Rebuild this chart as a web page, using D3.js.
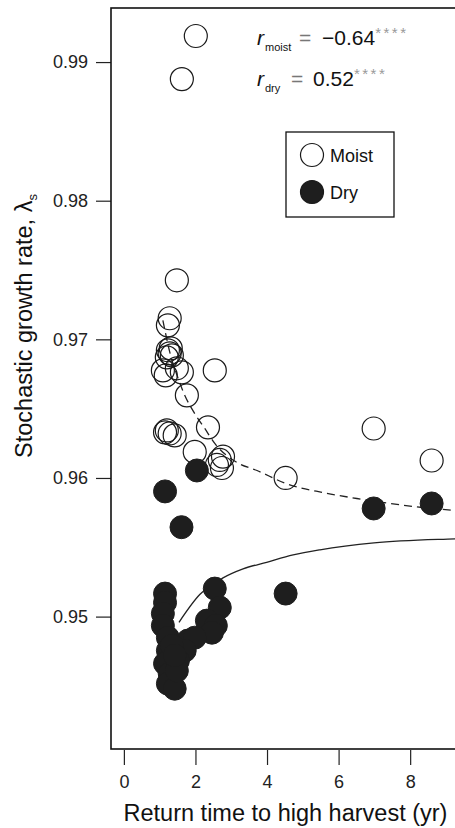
<!DOCTYPE html>
<html>
<head>
<meta charset="utf-8">
<script src="https://cdn.jsdelivr.net/npm/d3@7"></script>
<style>
  html, body { margin: 0; padding: 0; background: #fff; overflow: hidden; }
  svg { display: block; font-family: "Liberation Sans", Arial, Helvetica, sans-serif; }
</style>
</head>
<body>
<svg id="chart" width="455" height="828"></svg>
<script>
// return time (yr), stochastic growth rate
const moistPoints = [
  [2.01, 0.99188], [1.62, 0.98877], [1.48, 0.97426], [1.28, 0.97152], [1.23, 0.97101],
  [1.23, 0.96921], [1.28, 0.96899], [1.34, 0.96884], [1.20, 0.96870], [1.31, 0.96935],
  [1.09, 0.96776], [1.48, 0.96791], [1.62, 0.96762], [1.17, 0.96740], [2.54, 0.96776],
  [1.76, 0.96596], [2.35, 0.96365], [1.15, 0.96329], [1.28, 0.96321], [1.42, 0.96307],
  [1.20, 0.96343], [1.98, 0.96188], [2.68, 0.96130], [2.74, 0.96072], [2.60, 0.96094],
  [2.77, 0.96154], [4.52, 0.96000], [6.98, 0.96357], [8.60, 0.96126]
];
const dryPoints = [
  [1.15, 0.95903], [2.04, 0.96054], [1.61, 0.95645], [4.52, 0.95166], [6.98, 0.95780],
  [8.60, 0.95816], [2.54, 0.95202], [2.68, 0.95065], [2.32, 0.94971], [2.57, 0.94935],
  [2.46, 0.94884], [1.15, 0.95166], [1.15, 0.95101], [1.09, 0.95022], [1.09, 0.94935],
  [1.23, 0.94848], [1.23, 0.94755], [1.15, 0.94661], [1.28, 0.94588], [1.23, 0.94516],
  [1.42, 0.94480], [1.79, 0.94827], [1.98, 0.94848], [1.70, 0.94755], [1.51, 0.94682],
  [1.48, 0.94610], [1.34, 0.94790], [1.42, 0.94720]
];
// fitted curves
const moistFit = [
  [1.09, 0.97137], [1.30, 0.96890], [1.50, 0.96730], [1.70, 0.96596], [1.96, 0.96473],
  [2.26, 0.96357], [2.54, 0.96249], [3.16, 0.96112], [3.72, 0.96054], [4.53, 0.95960],
  [5.56, 0.95895], [6.51, 0.95852], [7.43, 0.95816], [8.35, 0.95787], [9.25, 0.95765],
  [9.70, 0.95755]
];
const dryFit = [
  [1.54, 0.94959], [2.12, 0.95159], [2.77, 0.95279], [3.33, 0.95344], [3.99, 0.95392],
  [4.73, 0.95445], [5.48, 0.95482], [6.99, 0.95532], [9.25, 0.95561], [9.70, 0.95565]
];
const xTicks = [0, 2, 4, 6, 8];
const yTicks = [0.95, 0.96, 0.97, 0.98, 0.99];
const seriesNames = ['Moist', 'Dry'];

const svg = d3.select('#chart');
const plotLeft = 111, plotTop = 8, plotBottom = 749, plotRight = 471;

const x = d3.scaleLinear().domain([-0.36, 9.7]).range([plotLeft, plotRight]);
const y = d3.scaleLinear().domain([0.94045, 0.9939]).range([plotBottom, plotTop]);

// axes
const yAxis = d3.axisLeft(y).tickValues(yTicks).tickSize(15).tickPadding(8).tickFormat(d3.format('.2f'));
const gy = svg.append('g').attr('transform', `translate(${plotLeft},0)`).call(yAxis);
const xAxis = d3.axisBottom(x).tickValues(xTicks).tickSize(15).tickPadding(10).tickFormat(d3.format('d'));
const gx = svg.append('g').attr('transform', `translate(0,${plotBottom + 1})`).call(xAxis);
[gx, gy].forEach(g => {
  g.select('.domain').remove();
  g.selectAll('.tick line').attr('stroke', '#222').attr('stroke-width', 1.2);
  g.selectAll('.tick text').attr('fill', '#222').style('font-size', '18px').style('font-family', '"Liberation Sans", Arial, sans-serif');
});

// plot box
svg.append('rect')
  .attr('x', plotLeft).attr('y', plotTop)
  .attr('width', plotRight - plotLeft).attr('height', plotBottom - plotTop)
  .attr('fill', 'none').attr('stroke', '#111').attr('stroke-width', 1.6);

// fits
const line = d3.line().x(d => x(d[0])).y(d => y(d[1])).curve(d3.curveMonotoneX);
svg.append('path').datum(moistFit).attr('d', line)
  .attr('fill', 'none').attr('stroke', '#222').attr('stroke-width', 1.3).attr('stroke-dasharray', '8,5');
svg.append('path').datum(dryFit).attr('d', line)
  .attr('fill', 'none').attr('stroke', '#222').attr('stroke-width', 1.3);

// points
svg.append('g').selectAll('circle').data(moistPoints).join('circle')
  .attr('cx', d => x(d[0])).attr('cy', d => y(d[1])).attr('r', 11.5)
  .attr('fill', 'none').attr('stroke', '#1a1a1a').attr('stroke-width', 1.2);
svg.append('g').selectAll('circle').data(dryPoints).join('circle')
  .attr('cx', d => x(d[0])).attr('cy', d => y(d[1])).attr('r', 11.5)
  .attr('fill', '#1e1e1e').attr('stroke', '#1e1e1e').attr('stroke-width', 1);

// correlation labels
function rLabel(yBase, sub, value, eqX, valX) {
  const t = svg.append('text').attr('y', yBase).style('font-size', '21px').attr('fill', '#111');
  t.append('tspan').attr('x', 257).text('r').style('font-style', 'italic');
  t.append('tspan').attr('x', 265).text(sub).style('font-size', '11px').attr('dy', 6);
  t.append('tspan').attr('x', eqX).text('=').attr('dy', -6).attr('fill', '#777').style('font-size', '21px');
  t.append('tspan').attr('x', valX).text(value);
  t.append('tspan').text('****').attr('dy', -7).attr('fill', '#999')
    .style('font-size', '15px').style('letter-spacing', '2.5px');
}
rLabel(45, 'moist', '\u22120.64', 299, 322);
rLabel(86, 'dry', '0.52', 291, 313);

// legend
const lg = svg.append('g');
lg.append('rect').attr('x', 286).attr('y', 132).attr('width', 108).attr('height', 85)
  .attr('fill', '#fff').attr('stroke', '#111').attr('stroke-width', 1.3);
seriesNames.forEach((name, i) => {
  lg.append('circle').attr('cx', 312).attr('cy', 155 + i * 37).attr('r', 11.5)
    .attr('fill', i === 0 ? '#fff' : '#1e1e1e').attr('stroke', '#1a1a1a').attr('stroke-width', 1.2);
  lg.append('text').attr('x', 330).attr('y', 162 + i * 37).text(name)
    .style('font-size', '18px').attr('fill', '#111');
});

// axis titles
svg.append('text').attr('x', 285.5).attr('y', 821).attr('text-anchor', 'middle')
  .style('font-size', '23.5px').attr('fill', '#111').text('Return time to high harvest (yr)');
const yt = svg.append('text').attr('transform', 'translate(32,326) rotate(-90)').attr('text-anchor', 'middle')
  .style('font-size', '23.5px').attr('fill', '#111');
yt.append('tspan').text('Stochastic growth rate, \u03bb');
yt.append('tspan').text('s').style('font-size', '13px').attr('dy', 5);
</script>
</body>
</html>
